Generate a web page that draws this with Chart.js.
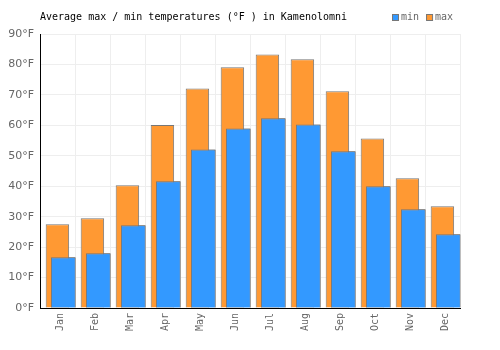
<!DOCTYPE html>
<html>
<head>
<meta charset="utf-8">
<script src="https://cdn.jsdelivr.net/npm/chart.js@4/dist/chart.umd.min.js"></script>
<style>
  html, body { margin: 0; padding: 0; background: #fff; }
  #wrap { width: 500px; height: 350px; }
</style>
</head>
<body>
<div id="wrap"><canvas id="chart"></canvas></div>
<script>
// ── DATA ─────────────────────────────────────
const MONTHS = ['Jan', 'Feb', 'Mar', 'Apr', 'May', 'Jun', 'Jul', 'Aug', 'Sep', 'Oct', 'Nov', 'Dec'];
const MAX_F = [27.5, 29.5, 40.3, 60.1, 72.1, 79.1, 83.3, 81.7, 71.2, 55.7, 42.6, 33.4];
const MIN_F = [16.7, 18.0, 27.2, 41.6, 52.1, 59.0, 62.3, 60.3, 51.5, 40.0, 32.4, 24.2];
const Y_MIN = 0, Y_MAX = 90, Y_STEP = 10;
const UNIT = '°F';
const TITLE = 'Average max / min temperatures (°F ) in Kamenolomni';

const MONO = '"DejaVu Sans Mono", monospace';
const BLUE = '#3399ff';
const ORANGE = '#ff9933';
const EDGE = '#777777';

// title + legend on one line
const header = {
  id: 'header',
  afterDraw(chart) {
    const c = chart.ctx;
    c.save();
    c.font = '10px ' + MONO;
    c.textBaseline = 'middle';
    c.textAlign = 'left';
    c.fillStyle = '#000';
    c.fillText(TITLE, chart.chartArea.left, 17.5);

    const items = [{ text: 'min', color: BLUE }, { text: 'max', color: ORANGE }];
    let x = 392;
    items.forEach(it => {
      c.fillStyle = it.color;
      c.fillRect(x, 14, 6, 6);
      c.strokeStyle = EDGE;
      c.lineWidth = 1;
      c.strokeRect(x + 0.5, 14.5, 6, 6);
      c.fillStyle = '#666';
      c.fillText(it.text, x + 9, 17.5);
      x += 9 + c.measureText(it.text).width + 7;
    });
    c.restore();
  }
};

// min bars sit on top of max bars
const minOnTop = {
  id: 'minOnTop',
  afterDatasetsDraw(chart) {
    chart.getDatasetMeta(1).controller.draw();
  }
};

new Chart(document.getElementById('chart'), {
  type: 'bar',
  data: {
    labels: MONTHS,
    datasets: [
      { label: 'max', data: MAX_F, backgroundColor: ORANGE, borderColor: EDGE, borderWidth: 1,
        categoryPercentage: 0.01, barPercentage: 134 },
      { label: 'min', data: MIN_F, backgroundColor: BLUE, borderColor: EDGE, borderWidth: 1,
        categoryPercentage: 0.66, barPercentage: 2.14 }
    ]
  },
  options: {
    responsive: true, maintainAspectRatio: false,
    animation: false,
    layout: { padding: { top: 34, right: 40, left: 0, bottom: 0 } },
    plugins: { legend: { display: false }, title: { display: false }, tooltip: { enabled: false } },
    scales: {
      x: {
        offset: true,
        grid: { color: '#eeeeee', offset: true, drawTicks: false },
        border: { color: '#000' },
        ticks: { color: '#666', font: { family: MONO, size: 10 }, minRotation: 90, maxRotation: 90,
                 padding: 5, labelOffset: 2.5 },
        afterFit(s) { s.height = 42; }
      },
      y: {
        min: Y_MIN, max: Y_MAX,
        grid: { color: '#eeeeee', drawTicks: false },
        border: { color: '#000' },
        ticks: { stepSize: Y_STEP, color: '#666', font: { family: '"DejaVu Sans", sans-serif', size: 11 }, padding: 6,
                 callback: v => v + UNIT },
        afterFit(s) { s.width = 40; }
      }
    }
  },
  plugins: [header, minOnTop]
});
</script>
</body>
</html>
